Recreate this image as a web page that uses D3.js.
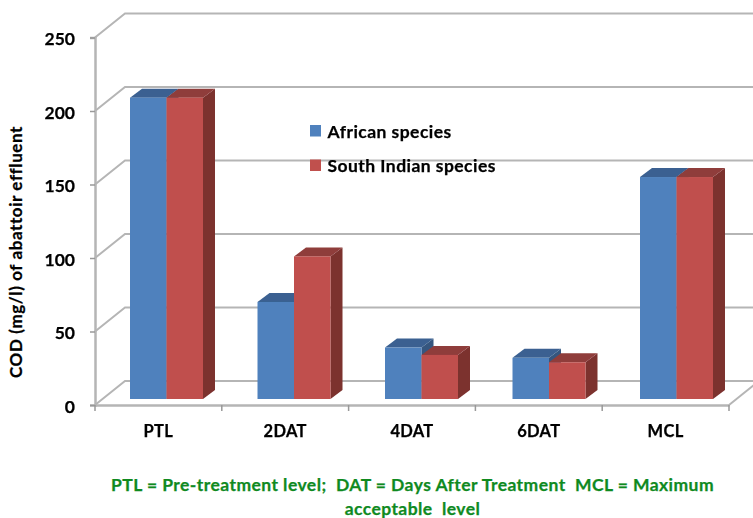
<!DOCTYPE html>
<html>
<head>
<meta charset="utf-8">
<script src="https://cdn.jsdelivr.net/npm/d3@7"></script>
<style>
html, body { margin: 0; padding: 0; background: #fff; }
svg { display: block; }
text { font-family: Lato, "Open Sans", sans-serif; font-weight: 700; }
</style>
</head>
<body>
<div id="chart"></div>
<script>
var categories = ['PTL', '2DAT', '4DAT', '6DAT', 'MCL'];
var seriesNames = ['African species', 'South Indian species'];
var african = [205, 66, 35, 28, 151];
var southIndian = [205, 97, 30, 25, 151];
var yTicks = [0, 50, 100, 150, 200, 250];
var noteLines = ['PTL = Pre-treatment level;  DAT = Days After Treatment  MCL = Maximum', 'acceptable  level'];

var w = 753, h = 518;
var front = ['#4f81bd', '#c0504d'];
var topFace = ['#3a6191', '#8f3c3a'];
var sideFace = ['#35577f', '#7c302f'];
var gridCol = '#b5b5b5';

// wall depth and bar depth, in px
var wallX = 30, wallY = -24;
var barX = 12, barY = -9;
var planeY = -6;

var svg = d3.select('#chart').append('svg')
	.attr('width', w)
	.attr('height', h);

var defs = svg.append('defs');
defs.append('filter').attr('id', 'soft')
	.append('feGaussianBlur').attr('stdDeviation', 0.45);
defs.append('clipPath').attr('id', 'page')
	.append('rect').attr('width', w).attr('height', h);

var x = d3.scaleBand().domain(categories).range([95, 729]);
// bars sit on a plane set back from the floor edge, so they have their own band
var xBars = d3.scaleBand().domain(categories).range([102.75, 740.25]);
var y = d3.scaleLinear().domain([0, 250]).range([405, 37.5]);
var inner = d3.scaleBand().domain([0, 1]).range([0, 73]);

var plot = svg.append('g').attr('filter', 'url(#soft)');

// back wall gridlines and the slanted side wall
var grid = plot.append('g').attr('clip-path', 'url(#page)');
grid.selectAll('polyline')
	.data(yTicks)
	.enter()
	.append('polyline')
	.attr('points', function(d){
		var a = y(d);
		return [[95, a], [95 + wallX, a + wallY], [w + 5, a + wallY]].join(' ');
	})
	.style('fill', 'none')
	.style('stroke', gridCol)
	.style('stroke-width', 2);

// floor
grid.append('polyline')
	.attr('points', [[729, y(0)], [729 + wallX, y(0) + wallY]].join(' '))
	.style('fill', 'none')
	.style('stroke', gridCol)
	.style('stroke-width', 2);

// axes
var yAxis = plot.append('g')
	.attr('transform', 'translate(95,0)')
	.call(d3.axisLeft(y).tickValues(yTicks).tickSize(5).tickPadding(15));
yAxis.select('.domain').style('stroke', gridCol).style('stroke-width', 2.5);
yAxis.selectAll('line').style('stroke', '#999').style('stroke-width', 1.5);
yAxis.selectAll('text')
	.attr('dy', '0.42em')
	.style('font-size', '17.5px')
	.style('font-family', 'Lato')
	.style('font-weight', 700)
	.style('stroke', '#000')
	.style('stroke-width', 0.25)
	.style('fill', '#000');

var xAxis = plot.append('g')
	.attr('transform', 'translate(0,' + y(0) + ')')
	.call(d3.axisBottom(x).tickSize(0).tickPadding(20));
xAxis.select('.domain').style('stroke', gridCol).style('stroke-width', 2.5);
xAxis.selectAll('text')
	.style('font-size', '16.5px')
	.style('font-family', 'Lato')
	.style('font-weight', 700)
	.style('letter-spacing', '0.3px')
	.style('stroke', '#000')
	.style('stroke-width', 0.25)
	.style('fill', '#000');

plot.append('g').selectAll('line')
	.data(categories.concat(['end']))
	.enter()
	.append('line')
	.attr('x1', function(d, i){ return 95 + i * x.step(); })
	.attr('x2', function(d, i){ return 95 + i * x.step(); })
	.attr('y1', y(0))
	.attr('y2', y(0) + 6)
	.style('stroke', '#999')
	.style('stroke-width', 1.5);

// bars
var series = [african, southIndian];
var base = y(0) + planeY;
var groups = plot.selectAll('.group')
	.data(categories)
	.enter()
	.append('g')
	.attr('class', 'group');

groups.each(function(cat, c){
	var g = d3.select(this);
	series.forEach(function(vals, s){
		var x0 = xBars(cat) + (xBars.bandwidth() - 73) / 2 + inner(s);
		var bw = inner.bandwidth();
		var top = y(vals[c]) + planeY;
		g.append('polygon')
			.attr('points', [[x0 + bw, top], [x0 + bw + barX, top + barY], [x0 + bw + barX, base + barY], [x0 + bw, base]].join(' '))
			.style('fill', sideFace[s]);
		g.append('polygon')
			.attr('points', [[x0, top], [x0 + barX, top + barY], [x0 + bw + barX, top + barY], [x0 + bw, top]].join(' '))
			.style('fill', topFace[s]);
		g.append('rect')
			.attr('x', x0)
			.attr('y', top)
			.attr('width', bw)
			.attr('height', base - top)
			.style('fill', front[s]);
	});
});

// y title
svg.append('text')
	.attr('transform', 'translate(22,252) rotate(-90)')
	.attr('text-anchor', 'middle')
	.style('font-size', '17px')
	.style('letter-spacing', '0.6px')
	.style('stroke', '#000')
	.style('stroke-width', 0.25)
	.style('fill', '#000')
	.text('COD (mg/l) of abattoir effluent');

// legend
var legend = svg.selectAll('.legend')
	.data(seriesNames)
	.enter()
	.append('g')
	.attr('class', 'legend')
	.attr('transform', function(d, i){ return 'translate(310,' + (125 + i * 34.5) + ')'; });
legend.append('rect')
	.attr('width', 11)
	.attr('height', 11.5)
	.style('fill', function(d, i){ return front[i]; });
legend.append('text')
	.attr('x', 17.5)
	.attr('y', 12.5)
	.style('font-size', '17.5px')
	.style('letter-spacing', '0.45px')
	.style('stroke', '#000')
	.style('stroke-width', 0.25)
	.style('fill', '#000')
	.text(function(d){ return d; });

// footnote
svg.selectAll('.note')
	.data(noteLines)
	.enter()
	.append('text')
	.attr('class', 'note')
	.attr('x', 412.5)
	.attr('y', function(d, i){ return 491 + i * 24; })
	.attr('text-anchor', 'middle')
	.style('font-size', '17.5px')
	.style('letter-spacing', '0.44px')
	.style('white-space', 'pre')
	.style('stroke', '#0f8a1f')
	.style('stroke-width', 0.25)
	.style('fill', '#0f8a1f')
	.text(function(d){ return d; });
</script>
</body>
</html>
